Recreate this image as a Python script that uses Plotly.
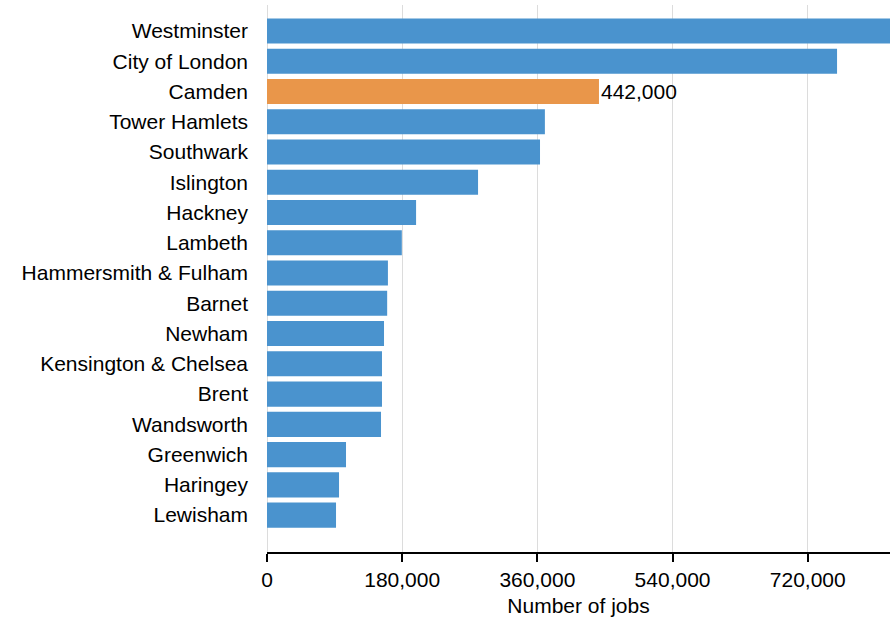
import plotly.graph_objects as go

boroughs = ["Westminster", "City of London", "Camden", "Tower Hamlets", "Southwark",
            "Islington", "Hackney", "Lambeth", "Hammersmith & Fulham", "Barnet",
            "Newham", "Kensington & Chelsea", "Brent", "Wandsworth", "Greenwich",
            "Haringey", "Lewisham"]
jobs = [870000, 759000, 442000, 370000, 363500, 281000, 198500, 179500, 161000,
        160000, 155800, 153100, 153100, 151800, 105200, 95900, 91900]
highlight = "Camden"
x_ticks = [0, 180000, 360000, 540000, 720000]

BLUE = "#4a93ce"
ORANGE = "#e9964a"
colors = [ORANGE if b == highlight else BLUE for b in boroughs]

FONT = "Liberation Sans, Arial, sans-serif"
FS = 21

fig = go.Figure(go.Bar(
    x=jobs, y=list(range(len(boroughs))), orientation="h",
    marker=dict(color=colors, line=dict(width=0)),
))

hi = boroughs.index(highlight)
fig.add_annotation(
    x=jobs[hi], y=hi, text=f"{jobs[hi]:,}", showarrow=False,
    xanchor="left", yanchor="middle", xshift=0,
    font=dict(family=FONT, size=FS, color="black"),
)

fig.update_layout(
    width=890, height=618,
    margin=dict(l=267, r=0, t=5, b=66),
    paper_bgcolor="white", plot_bgcolor="white",
    bargap=0.17, showlegend=False,
    font=dict(family=FONT, size=FS, color="black"),
)
fig.update_xaxes(
    range=[0, 829500], tickvals=x_ticks, ticktext=[f"{v:,}" for v in x_ticks],
    showgrid=True, gridcolor="#dcdcdc", gridwidth=1,
    zeroline=True, zerolinecolor="#dcdcdc", zerolinewidth=1,
    showline=True, linecolor="black", linewidth=2,
    ticks="outside", ticklen=8, tickwidth=2, tickcolor="black",
    tickfont=dict(size=FS),
    title=dict(text="Number of jobs", font=dict(size=FS), standoff=8),
)
fig.update_yaxes(
    range=[17.22, -0.86], tickvals=list(range(len(boroughs))), ticktext=boroughs,
    showgrid=False, zeroline=False, showline=False,
    ticks="", ticklabelstandoff=18, tickfont=dict(size=FS),
)

fig.write_html("out.html")
